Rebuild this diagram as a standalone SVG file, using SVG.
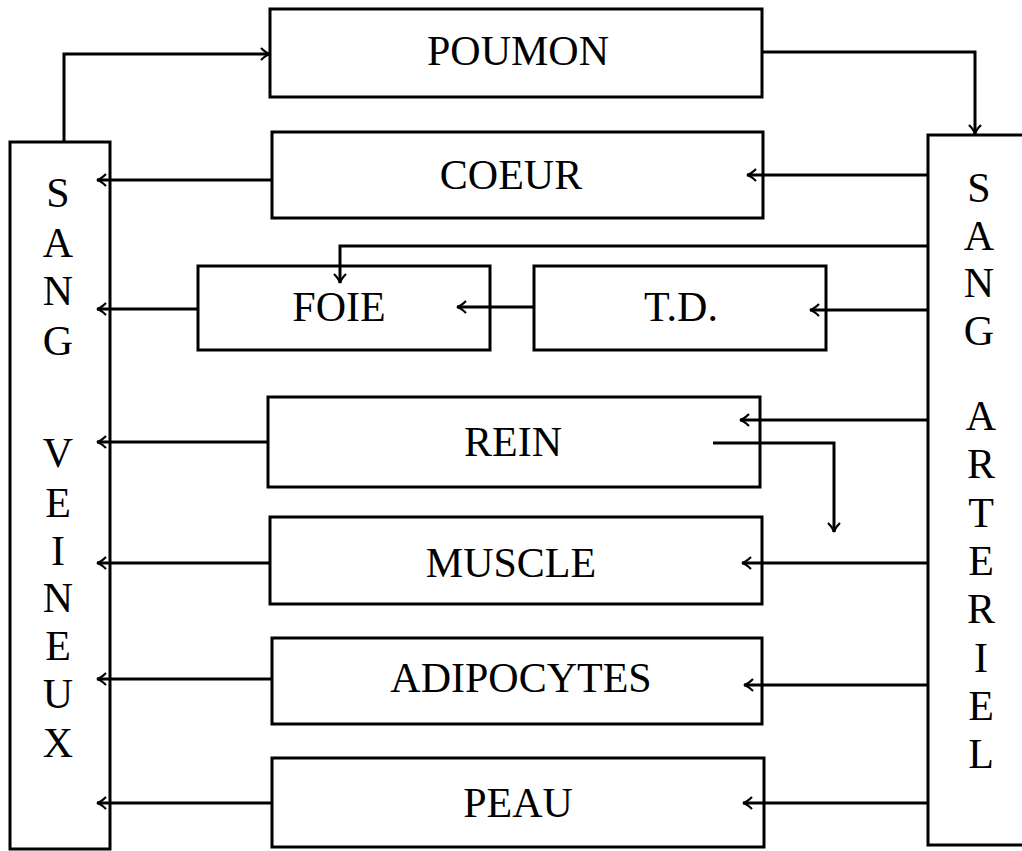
<svg xmlns="http://www.w3.org/2000/svg" width="1022" height="851" viewBox="0 0 1022 851">
<defs>
<style>
.box{fill:#fff;stroke:#000;stroke-width:3}
.t{font-family:"Liberation Serif","DejaVu Serif",serif;font-size:42px;fill:#000;text-anchor:middle}
.c{fill:none;stroke:#000;stroke-width:3;marker-end:url(#ah)}
</style>
<marker id="ah" markerUnits="userSpaceOnUse" markerWidth="20" markerHeight="20" viewBox="-12 -10 14 20" refX="0" refY="0" orient="auto">
<path d="M -9 -6 Q -4 -1 0 0 Q -4 1 -9 6" fill="none" stroke="#000" stroke-width="2.2"/>
</marker>
</defs>
<rect width="1022" height="851" fill="#fff"/>
<g id="sang-veineux">
<rect class="box" x="10" y="142" width="100" height="707"/>
<text class="t" x="58" y="207">S</text>
<text class="t" x="58" y="257">A</text>
<text class="t" x="58" y="305">N</text>
<text class="t" x="58" y="355">G</text>
<text class="t" x="58" y="467">V</text>
<text class="t" x="58" y="517">E</text>
<text class="t" x="58" y="565">I</text>
<text class="t" x="58" y="612">N</text>
<text class="t" x="58" y="660">E</text>
<text class="t" x="58" y="708">U</text>
<text class="t" x="58" y="757">X</text>
</g>
<g id="sang-arteriel">
<rect class="box" x="928" y="135" width="110" height="710"/>
<text class="t" x="979" y="202">S</text>
<text class="t" x="979" y="250">A</text>
<text class="t" x="979" y="297">N</text>
<text class="t" x="979" y="345">G</text>
<text class="t" x="981" y="430">A</text>
<text class="t" x="981" y="478">R</text>
<text class="t" x="981" y="527">T</text>
<text class="t" x="981" y="575">E</text>
<text class="t" x="981" y="623">R</text>
<text class="t" x="981" y="672">I</text>
<text class="t" x="981" y="720">E</text>
<text class="t" x="981" y="768">L</text>
</g>
<g id="poumon">
<rect class="box" x="270" y="9" width="492" height="88"/>
<text class="t" x="518" y="65">POUMON</text>
</g>
<g id="coeur">
<rect class="box" x="272" y="132" width="491" height="86"/>
<text class="t" x="511" y="189">COEUR</text>
</g>
<g id="foie">
<rect class="box" x="198" y="266" width="292" height="84"/>
<text class="t" x="339" y="321">FOIE</text>
</g>
<g id="td">
<rect class="box" x="534" y="266" width="292" height="84"/>
<text class="t" x="681" y="321">T.D.</text>
</g>
<g id="rein">
<rect class="box" x="268" y="397" width="492" height="90"/>
<text class="t" x="513" y="456">REIN</text>
</g>
<g id="muscle">
<rect class="box" x="270" y="517" width="492" height="87"/>
<text class="t" x="511" y="577">MUSCLE</text>
</g>
<g id="adipocytes">
<rect class="box" x="272" y="638" width="490" height="86"/>
<text class="t" x="521" y="692">ADIPOCYTES</text>
</g>
<g id="peau">
<rect class="box" x="272" y="758" width="492" height="89"/>
<text class="t" x="518" y="817">PEAU</text>
</g>
<g id="connectors">
<path class="c" d="M64 142 V54 H270"/>
<path class="c" d="M762 52 H975 V134"/>
<path class="c" d="M928 175 H747"/>
<path class="c" d="M272 180 H97"/>
<path class="c" d="M928 246 H340 V283"/>
<path class="c" d="M928 310 H810"/>
<path class="c" d="M534 307 H457"/>
<path class="c" d="M198 309 H97"/>
<path class="c" d="M928 420 H740"/>
<path class="c" d="M713 443 H834 V532"/>
<path class="c" d="M268 442 H97"/>
<path class="c" d="M928 563 H742"/>
<path class="c" d="M270 563 H97"/>
<path class="c" d="M928 685 H744"/>
<path class="c" d="M272 679 H97"/>
<path class="c" d="M928 803 H743"/>
<path class="c" d="M272 803 H97"/>
</g>
</svg>
